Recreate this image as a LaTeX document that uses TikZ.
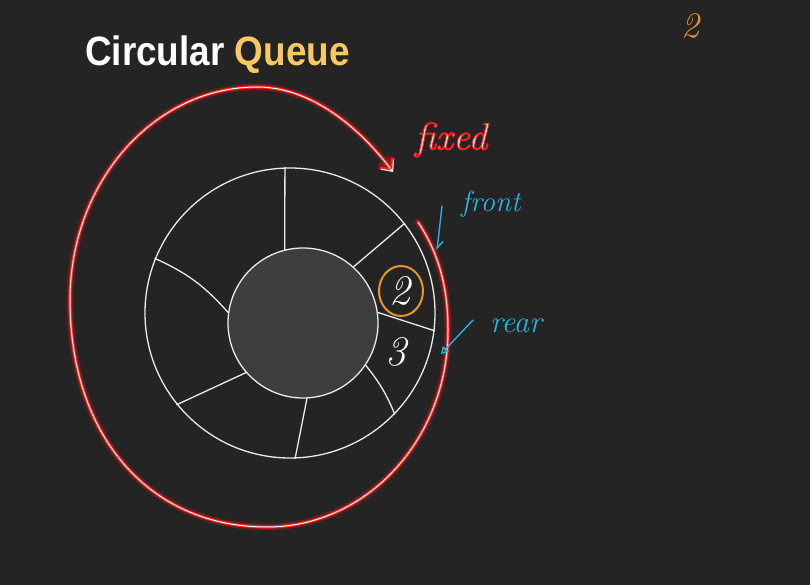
\documentclass[tikz,border=0pt]{standalone}
\usepackage{fontspec}
\usepackage{xcolor}
\usepackage{graphicx}
\usetikzlibrary{arrows.meta,positioning,calc}
\newfontfamily\titlefont{Liberation Sans}
\newfontfamily\glowfont[FakeBold=2.6]{Latin Modern Roman}
\definecolor{board}{RGB}{36,36,36}
\definecolor{hubgray}{RGB}{62,62,62}
\definecolor{chalkred}{RGB}{255,28,28}
\definecolor{chalkcyan}{RGB}{40,180,224}
\definecolor{chalkorange}{RGB}{232,150,40}
\definecolor{titleyellow}{RGB}{247,200,100}

\begin{document}
\begin{tikzpicture}[x=1pt,y=-1pt,
			chalk/.style={draw=white!92!black, line width=1.3pt, line cap=round, line join=round},
			slot/.style={circle, inner sep=0pt, chalk},
			hand/.style={font=\itshape\fontsize{#1}{#1}\selectfont},
			note/.style={draw=chalkcyan, line width=1.4pt, line cap=round},
			>=Stealth
			]
			\fill[board] (0,0) rectangle (810,585);
			\useasboundingbox (0,0) rectangle (810,585);
			
			\node[anchor=west, inner sep=0pt, font=\titlefont\bfseries\fontsize{41}{41}\selectfont] (title) at (85,55)
				{\scalebox{0.9}[1]{\color{white}Circular \color{titleyellow}Queue}};
			\node[hand=36, text=chalkorange] (page) at (690,26) {2};
			
			\node[slot, minimum size=290pt] (ring) at (290,313) {};
			\node[slot, fill=hubgray, minimum size=150pt] (hub) at (303,323) {};
			
			\draw[chalk] (hub.104) -- (ring.92);
			\draw[chalk] (hub.48) -- (ring.38);
			\draw[chalk] (hub.8) -- (ring.-7);
			\draw[chalk] (hub.-34) to[bend left=8] (ring.-44);
			\draw[chalk] (hub.-87) -- (ring.-88);
			\draw[chalk] (hub.-139) -- (ring.-141);
			\draw[chalk] (hub.172) to[bend right=12] (ring.158);
			
			\node[hand=42, text=white] (two) at (400,291) {2};
			\draw[chalkorange, line width=2pt] (401,291) circle[x radius=22pt, y radius=25pt];
			\node[hand=42, text=white] (three) at (396,352) {3};
			
			\coordinate (loopstart) at (418,222);
			\coordinate (loopright) at (448,330);
			\coordinate (loopbottom) at (267,527);
			\coordinate (loopleft) at (70,300);
			\coordinate (looptop) at (257,87);
			\coordinate (looptip) at (393,172);
			\foreach \w/\c/\o in {7/chalkred/0.25, 3.2/chalkred/1, 1/white/1}
				\draw[line width=\w pt, \c, opacity=\o, line cap=round, -{Straight Barb[length=9pt,width=16pt]}]
					(loopstart) .. controls (440,255) and (448,290) .. (loopright)
					.. controls (448,439) and (367,527) .. (loopbottom)
					.. controls (149,527) and (70,436) .. (loopleft)
					.. controls (70,182) and (154,87) .. (looptop)
					.. controls (317,87) and (366,136) .. (looptip);
			\node[text=white, font=\glowfont\itshape\fontsize{38}{38}\selectfont] (fixed) at (451,140)
				{\special{pdf:code 1 0.11 0.11 RG}fixed};
			
			\node[hand=29, text=chalkcyan] (front) at (491,204) {front};
			\coordinate (fronttop) at (442,206);
			\coordinate (frontend) at (437,250);
			\draw[note, -{Straight Barb[left, length=7pt, width=10pt]}] (fronttop) -- (frontend);
			
			\node[hand=31, text=chalkcyan] (rear) at (516,326) {rear};
			\coordinate (reartop) at (473,320);
			\coordinate (rearend) at (441,354);
			\draw[note, -{Triangle[open, length=7pt, width=8pt]}] (reartop) -- (rearend);
		\end{tikzpicture}
\end{document}
